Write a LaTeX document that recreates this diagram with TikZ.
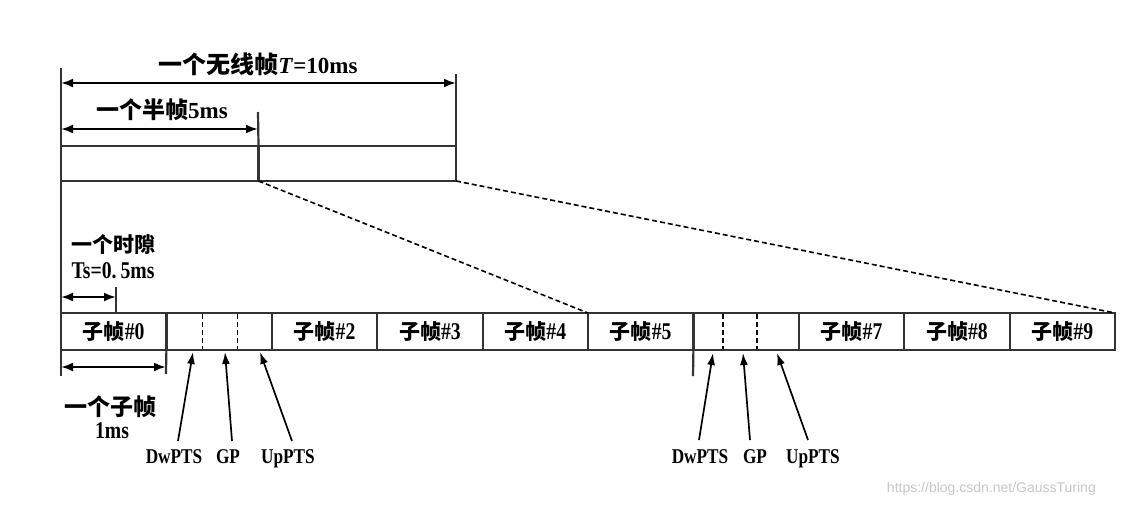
\documentclass[tikz,border=0pt]{standalone}
\usepackage{fontspec}
\setmainfont{Liberation Serif}
\newfontfamily\cjk{Noto Sans CJK SC}
\newfontfamily\lat[FakeStretch=0.82]{Liberation Serif}
\newfontfamily\wmfont{Liberation Sans}
\usetikzlibrary{arrows.meta}
\newcommand\zh[2][22]{{\cjk\bfseries\fontsize{#1}{#1}\selectfont #2}}
\tikzset{
  sub/.style={draw=black!80, line width=2.2pt, minimum width=105.4pt, minimum height=37pt, inner sep=0pt, outer sep=0pt, font=\lat\bfseries\fontsize{24}{24}\selectfont},
  half/.style={draw=black!80, line width=2.2pt, minimum width=197.5pt, minimum height=35pt, inner sep=0pt, outer sep=0pt},
  dim/.style={line width=2.2pt, {Latex[length=12pt,width=9pt]}-{Latex[length=12pt,width=9pt]}},
  ext/.style={line width=2.2pt, draw=black!80},
  dsh/.style={line width=1.6pt, dash pattern=on 5pt off 3pt},
  ptr/.style={line width=1.7pt, -{Latex[length=12pt,width=8pt]}},
  lbl/.style={inner sep=0pt, anchor=base, font=\lat\bfseries\fontsize{21}{22}\selectfont},
  mid/.style={inner sep=0pt, anchor=base, font=\lat\bfseries\fontsize{24}{24}\selectfont},
  big/.style={inner sep=0pt, anchor=base, font=\bfseries\fontsize{23}{24}\selectfont},
}
\begin{document}
\begin{tikzpicture}[x=1pt,y=-1pt]
\useasboundingbox (0,0) rectangle (1131,507);
% top frame
\node[half] (h1) at (159.75,163.5) {};
\node[half] (h2) at (357.25,163.5) {};
% subframes
\node[sub] (s0) at (113.7,331.5) {\zh[21]{子帧}\#0};
\node[sub] (s1) at (219.1,331.5) {};
\node[sub] (s2) at (324.5,331.5) {\zh[21]{子帧}\#2};
\node[sub] (s3) at (429.9,331.5) {\zh[21]{子帧}\#3};
\node[sub] (s4) at (535.3,331.5) {\zh[21]{子帧}\#4};
\node[sub] (s5) at (640.7,331.5) {\zh[21]{子帧}\#5};
\node[sub] (s6) at (746.1,331.5) {};
\node[sub] (s7) at (851.5,331.5) {\zh[21]{子帧}\#7};
\node[sub] (s8) at (956.9,331.5) {\zh[21]{子帧}\#8};
\node[sub] (s9) at (1062.3,331.5) {\zh[21]{子帧}\#9};
% dashed inner divisions
\draw[dsh] (202.5,314) -- (202.5,349);
\draw[dsh] (237.5,314) -- (237.5,349);
\draw[dsh] (723,314) -- (723,349);
\draw[dsh] (757,314) -- (757,349);
% zoom connectors
\draw[dsh] (h1.south east) -- (s4.north east);
\draw[dsh] (h2.south east) -- (s9.north east);
% extension lines
\coordinate (L0) at (61,68);
\coordinate (L1) at (61,376);
\draw[ext] (L0) -- (L1);
\coordinate (M0) at (258,112);
\draw[ext] (M0) -- (h1.north east);
\coordinate (R0) at (456,74);
\draw[ext] (R0) -- (h2.north east);
\coordinate (T0) at (116,287);
\coordinate (T1) at (116,313);
\draw[ext] (T0) -- (T1);
\coordinate (U1) at (166,374);
\draw[ext] (s0.south east) -- (U1);
\coordinate (V1) at (693,376);
\draw[ext] (s5.south east) -- (V1);
% dimension arrows
\coordinate (a1) at (61,83); \coordinate (a2) at (456,83);
\draw[dim] (a1) -- (a2);
\coordinate (b1) at (61,129); \coordinate (b2) at (258,129);
\draw[dim] (b1) -- (b2);
\coordinate (c1) at (61,297); \coordinate (c2) at (116,297);
\draw[dim] (c1) -- (c2);
\coordinate (d1) at (61,367); \coordinate (d2) at (166,367);
\draw[dim] (d1) -- (d2);
% dimension labels
\node[big] (tl1) at (258,73) {\zh[24]{一个无线帧}\textit{T}=10ms};
\node[big] (tl2) at (162,118) {\zh[23]{一个半帧}5ms};
\node[lbl] (tl3) at (113,252) {\zh[21]{一个时隙}};
\node[mid] (tl4) at (113,278) {Ts=0.\,5ms};
\node[lbl] (tl5) at (110,415) {\zh[23]{一个子帧}};
\node[mid] (tl6) at (112,438) {1ms};
% special subframe labels 1
\node[lbl] (dw1) at (174,463) {DwPTS};
\node[lbl] (gp1) at (228,463) {GP};
\node[lbl] (up1) at (288,463) {UpPTS};
\coordinate (pd1) at (193,352);
\coordinate (pg1) at (225,352);
\coordinate (pu1) at (260,352);
\draw[ptr] (178,441) -- (pd1);
\draw[ptr] (232,441) -- (pg1);
\draw[ptr] (292,441) -- (pu1);
% special subframe labels 6
\node[lbl] (dw2) at (700,463) {DwPTS};
\node[lbl] (gp2) at (755,463) {GP};
\node[lbl] (up2) at (813,463) {UpPTS};
\coordinate (pd2) at (713,353);
\coordinate (pg2) at (743,353);
\coordinate (pu2) at (777,353);
\draw[ptr] (699,440) -- (pd2);
\draw[ptr] (750,440) -- (pg2);
\draw[ptr] (808,440) -- (pu2);
% watermark
\node[inner sep=0pt, anchor=east, text=black!22, font=\wmfont\fontsize{14}{16}\selectfont] (wm) at (1096,489) {https://blog.csdn.net/GaussTuring};
\end{tikzpicture}
\end{document}
